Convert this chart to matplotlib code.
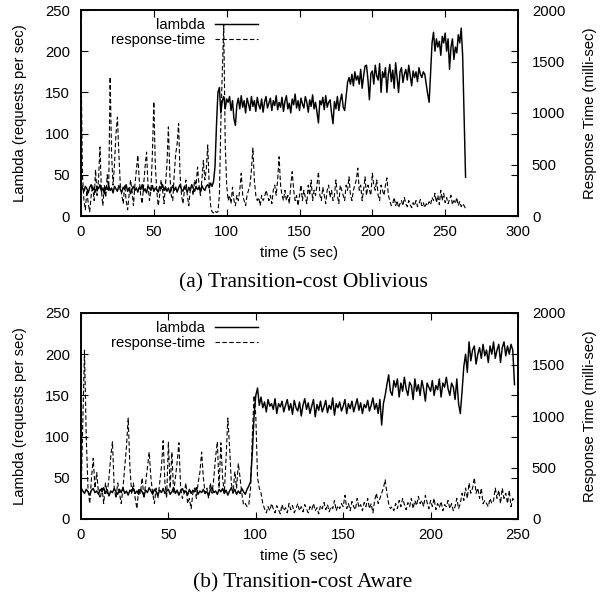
import matplotlib
matplotlib.use("Agg")
import matplotlib.pyplot as plt
import numpy as np

# ---------------- data ----------------
# (a) Transition-cost Oblivious : time index 0..264
lambda_a = [
    40, 34, 30, 36, 33, 28, 35, 38, 31, 34,
    29, 36, 33, 38, 30, 34, 27, 35, 32, 37,
    31, 34, 28, 36, 33, 30, 37, 32, 29, 35,
    33, 38, 30, 34, 27, 33, 36, 31, 34, 29,
    35, 32, 38, 30, 33, 28, 36, 34, 31, 37,
    30, 34, 32, 29, 36, 33, 38, 31, 35, 30,
    34, 28, 33, 37, 31, 35, 29, 34, 38, 32,
    30, 36, 33, 29, 35, 31, 38, 34, 30, 36,
    32, 35, 29, 37, 33, 31, 36, 38, 34, 40,
    36, 42, 60, 110, 150, 156, 125, 140, 145, 130,
    142, 138, 145, 128, 140, 118, 110, 135, 143, 130,
    146, 132, 140, 125, 143, 136, 128, 145, 133, 140,
    127, 144, 135, 130, 142, 126, 138, 145, 131, 137,
    143, 128, 140, 134, 146, 129, 138, 132, 144, 127,
    139, 146, 130, 137, 125, 142, 135, 148, 131, 140,
    128, 143, 136, 131, 145, 138, 126, 141, 133, 147,
    130, 138, 126, 113, 140, 135, 144, 129, 146, 132,
    138, 141, 125, 112, 139, 130, 145, 128, 140, 148,
    132, 128, 145, 162, 168, 160, 172, 158, 175, 165,
    170, 160, 178, 155, 170, 182, 183, 165, 141, 173,
    176, 160, 183, 170, 165, 185, 150, 175, 168, 180,
    150, 172, 184, 163, 177, 155, 186, 168, 150, 175,
    180, 162, 172, 178, 165, 183, 170, 158, 176, 168,
    175, 163, 180, 172, 168, 175, 172, 160, 148, 138,
    175, 210, 223, 200, 215, 205, 212, 195, 218, 210,
    222, 200, 215, 178, 205, 215, 190, 205, 198, 220,
    210, 228, 195, 120, 47,
]
rt_a = [
    1530, 400, 150, 60, 250, 120, 40, 200, 300, 150,
    450, 200, 350, 670, 250, 100, 300, 180, 400, 250,
    1350, 600, 300, 500, 800, 960, 600, 300, 200, 120,
    300, 150, 60, 200, 350, 250, 100, 300, 450, 590,
    350, 200, 120, 300, 480, 620, 300, 150, 250, 600,
    1110, 500, 250, 100, 200, 350, 250, 120, 300, 500,
    865, 400, 200, 150, 400, 600, 700, 900, 400, 200,
    120, 250, 350, 200, 100, 250, 300, 200, 350, 300,
    475, 300, 200, 350, 540, 350, 450, 690, 300, 100,
    40, 30, 50, 35, 40, 200, 900, 1400, 1850, 700,
    300, 150, 200, 120, 280, 150, 100, 200, 150, 250,
    415, 200, 150, 100, 200, 250, 300, 450, 660, 350,
    200, 150, 180, 100, 200, 150, 180, 250, 200, 150,
    200, 120, 250, 300, 200, 350, 575, 300, 200, 150,
    250, 150, 200, 120, 300, 430, 250, 150, 200, 100,
    200, 300, 150, 250, 180, 120, 300, 200, 350, 150,
    250, 200, 300, 430, 200, 150, 280, 200, 120, 250,
    300, 180, 250, 150, 200, 350, 200, 120, 300, 250,
    200, 150, 300, 250, 380, 200, 150, 250, 300, 350,
    465, 250, 300, 150, 250, 380, 200, 300, 250, 200,
    415, 300, 250, 350, 200, 150, 300, 250, 200, 300,
    370, 200, 150, 100, 120, 180, 100, 150, 80, 120,
    150, 100, 180, 120, 90, 150, 110, 80, 130, 100,
    150, 90, 120, 160, 100, 130, 80, 120, 100, 140,
    110, 180, 150, 220, 130, 200, 110, 250, 150, 220,
    130, 180, 120, 160, 200, 110, 150, 120, 180, 100,
    140, 90, 120, 100, 70,
]

# (b) Transition-cost Aware : time index 0..248
lambda_b = [
    38, 34, 31, 36, 33, 29, 35, 37, 32, 34,
    30, 36, 33, 38, 31, 35, 28, 34, 32, 37,
    33, 30, 36, 32, 38, 31, 34, 29, 35, 33,
    37, 31, 34, 30, 36, 33, 28, 35, 32, 38,
    34, 30, 36, 33, 29, 35, 32, 37, 31, 34,
    36, 30, 33, 38, 31, 35, 29, 34, 37, 32,
    34, 29, 36, 31, 35, 33, 38, 30, 34, 32,
    36, 31, 33, 29, 35, 38, 32, 34, 30, 36,
    33, 37, 31, 35, 29, 34, 38, 32, 36, 30,
    34, 31, 37, 33, 30, 36, 40, 45, 80, 125,
    150, 159, 138, 148, 135, 142, 130, 145, 137, 140,
    133, 146, 128, 140, 136, 143, 130, 138, 145, 132,
    140, 127, 144, 135, 131, 142, 125, 138, 146, 133,
    141, 128, 137, 145, 124, 139, 132, 143, 130, 136,
    144, 129, 138, 133, 147, 126, 140, 135, 142, 131,
    137, 145, 128, 140, 134, 143, 130, 138, 146, 132,
    141, 128, 139, 135, 144, 131, 138, 147, 133, 140,
    128, 145, 114, 140, 150, 163, 175, 155, 150, 168,
    160, 170, 148, 165, 155, 172, 158, 150, 166, 162,
    145, 170, 155, 163, 150, 168, 158, 143, 165, 160,
    155, 168, 150, 162, 157, 170, 148, 165, 160, 172,
    158, 150, 165, 160, 145, 170, 140, 128, 155, 185,
    200, 178, 215, 192, 205, 210, 188, 200, 208, 195,
    212, 198, 205, 190, 210, 200, 215, 195, 205, 212,
    190, 208, 215, 198, 210, 200, 212, 205, 163,
]
rt_b = [
    200, 900, 1640, 800, 300, 150, 400, 590, 300, 450,
    250, 200, 300, 150, 350, 250, 400, 600, 750, 300,
    200, 350, 250, 150, 300, 500, 700, 980, 500, 250,
    350, 200, 100, 300, 250, 400, 200, 350, 500, 650,
    400, 250, 150, 300, 200, 350, 500, 760, 350, 200,
    750, 300, 650, 250, 400, 550, 740, 300, 200, 250,
    350, 150, 200, 100, 250, 300, 200, 350, 450, 650,
    400, 250, 300, 200, 350, 250, 400, 600, 750, 300,
    740, 400, 250, 600, 980, 700, 350, 250, 460, 300,
    540, 400, 250, 135, 150, 120, 140, 300, 800, 1200,
    1000, 400, 300, 250, 150, 100, 60, 120, 80, 150,
    100, 60, 130, 90, 50, 140, 80, 110, 60, 150,
    90, 130, 60, 100, 150, 80, 120, 70, 140, 100,
    60, 120, 90, 150, 80, 110, 50, 130, 100, 160,
    90, 140, 70, 120, 100, 180, 80, 130, 100, 150,
    120, 230, 100, 150, 80, 170, 120, 90, 200, 110,
    140, 80, 160, 120, 200, 100, 150, 60, 180, 250,
    150, 200, 250, 300, 380, 250, 150, 100, 120, 80,
    150, 100, 180, 120, 200, 140, 90, 160, 120, 200,
    100, 180, 130, 220, 150, 180, 120, 230, 160, 100,
    180, 120, 200, 90, 150, 110, 170, 80, 140, 120,
    180, 100, 150, 80, 120, 200, 100, 150, 250, 180,
    300, 200, 350, 250, 300, 400, 250, 300, 200, 300,
    150, 180, 150, 120, 200, 150, 180, 300, 200, 280,
    150, 300, 200, 250, 150, 280, 120, 200, 180,
]

panels = [
    dict(lam=lambda_a, rt=rt_a, xmax=300, caption="(a) Transition-cost Oblivious"),
    dict(lam=lambda_b, rt=rt_b, xmax=250, caption="(b) Transition-cost Aware"),
]
left_ticks = [0, 50, 100, 150, 200, 250]
right_ticks = [0, 500, 1000, 1500, 2000]

# ---------------- figure ----------------
plt.rcParams['font.family'] = ['Liberation Sans', 'DejaVu Sans']
fs = 10.7
fig = plt.figure(figsize=(6.06, 5.98), dpi=100)

ax_rects = [[81/606, 1-216/598, 437/606, 206/598],
            [81/606, 1-519/598, 437/606, 206/598]]
caption_y = [1-283/598, 1-583/598]

for p, rect, cy in zip(panels, ax_rects, caption_y):
    axL = fig.add_axes(rect)
    axR = axL.twinx()
    x1 = np.arange(len(p['lam']))
    x2 = np.arange(len(p['rt']))
    hl, = axL.plot(x1, p['lam'], color='black', lw=1.05, label='lambda')
    hr, = axR.plot(x2, p['rt'], color='black', lw=0.8, dashes=(4, 2.2),
                   label='response-time')
    axL.set_xlim(0, p['xmax'])
    axL.set_ylim(0, 250)
    axR.set_ylim(0, 2000)
    axL.set_yticks(left_ticks)
    axR.set_yticks(right_ticks)
    axL.set_xticks(np.arange(0, p['xmax'] + 1, 50))
    axL.tick_params(direction='in', length=5, width=0.8, top=True, right=True,
                    labelsize=fs, pad=8)
    axL.tick_params(axis='x', pad=6.5)
    axR.tick_params(direction='in', length=5, width=0.8, left=False,
                    labelsize=fs, pad=10)
    for sp in axL.spines.values():
        sp.set_linewidth(1.2)
    for sp in axR.spines.values():
        sp.set_linewidth(1.2)
    axL.set_xlabel('time (5 sec)', fontsize=fs, labelpad=5)
    axL.set_ylabel('Lambda (requests per sec)', fontsize=fs, labelpad=13)
    axR.set_ylabel('Response Time (milli-sec)', fontsize=fs, labelpad=13)
    leg = axR.legend([hl, hr], ['lambda', 'response-time'], loc='upper right',
                     bbox_to_anchor=(0.405, 1 - 8/206), frameon=False,
                     markerfirst=False, fontsize=fs, handlelength=2.9,
                     handletextpad=0.67, labelspacing=0.05, borderpad=0,
                     borderaxespad=0)
    try:
        for vp in leg._legend_handle_box.get_children():
            vp.align = 'right'
    except Exception:
        pass
    fig.text(0.5, cy, p['caption'], ha='center', va='center',
             family=['Liberation Serif', 'DejaVu Serif'], fontsize=15.5)

fig.savefig('out.png', dpi=100)
